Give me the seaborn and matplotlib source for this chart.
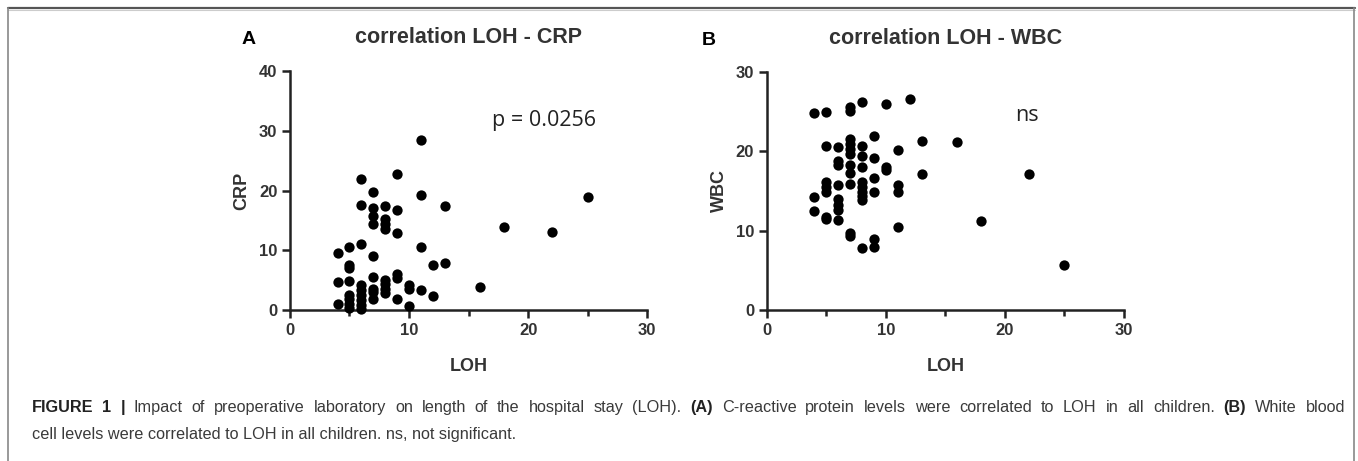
import seaborn as sns
import matplotlib.pyplot as plt
import pandas as pd
from matplotlib.lines import Line2D

# Panel A: LOH vs CRP
loh_a = ([4] * 3 + [5] * 8 + [6] * 9 + [7] * 9 + [8] * 8 + [9] * 6
         + [10] * 3 + [11] * 4 + [12] * 2 + [13] * 2 + [16, 18, 22, 25])
crp = [1.0, 4.7, 9.6,
       10.6, 7.5, 7.0, 4.9, 2.5, 1.8, 1.0, 0.3,
       22.0, 17.5, 11.0, 4.2, 3.4, 2.5, 1.7, 0.8, 0.1,
       19.8, 17.0, 15.8, 14.4, 9.1, 5.5, 3.6, 3.0, 1.9,
       17.4, 15.3, 14.4, 13.6, 5.0, 4.4, 3.6, 2.8,
       22.7, 16.7, 12.9, 6.0, 5.3, 1.9,
       4.2, 3.6, 0.7,
       28.4, 19.3, 10.6, 3.4,
       7.6, 2.4,
       17.4, 7.9,
       3.8, 13.9, 13.0, 18.9]

# Panel B: LOH vs WBC
loh_b = ([4] * 3 + [5] * 7 + [6] * 8 + [7] * 11 + [8] * 10 + [9] * 6
         + [10] * 3 + [11] * 4 + [12] + [13] * 2 + [16, 18, 22, 25])
wbc = [24.8, 14.2, 12.5,
       24.9, 20.6, 16.1, 15.5, 14.9, 11.7, 11.5,
       20.5, 18.7, 18.2, 15.7, 14.0, 13.2, 12.6, 11.3,
       25.5, 25.1, 21.5, 20.9, 20.3, 19.7, 18.2, 17.2, 15.8, 9.7, 9.3,
       26.2, 20.7, 19.4, 18.0, 16.1, 15.5, 14.9, 14.3, 13.9, 7.8,
       21.9, 19.1, 16.6, 14.8, 9.0, 7.9,
       25.9, 18.0, 17.6,
       20.2, 15.7, 14.8, 10.5,
       26.6,
       21.3, 17.1,
       21.1, 11.2, 17.1, 5.7]

# letter, title, y label, x, y, y max, annotation, axes left, letter x, note x, note y
panels = [
    ("A", "correlation LOH - CRP", "CRP", loh_a, crp, 40, "p = 0.0256",
     0.2135, -0.135, 0.565, 0.795),
    ("B", "correlation LOH - WBC", "WBC", loh_b, wbc, 30, "ns",
     0.5646, -0.182, 0.695, 0.815),
]

caption_line1 = ("**FIGURE 1 |** Impact of preoperative laboratory on length of the hospital "
                 "stay (LOH). **(A)** C-reactive protein levels were correlated to LOH in all "
                 "children. **(B)** White blood")
caption_line2 = "cell levels were correlated to LOH in all children. ns, not significant."


def draw_panel(fig, letter, title, ylab, x, y, ymax, note, left, letter_x, note_x, note_y):
    ax = fig.add_axes([left, 0.3275, 0.2631, 0.5184 if ymax == 40 else 0.517])
    df = pd.DataFrame({"LOH": x, ylab: y})
    sns.scatterplot(data=df, x="LOH", y=ylab, ax=ax, color="black", s=55,
                    edgecolor="black", linewidth=0, clip_on=False, zorder=3)
    ax.set_xlim(0, 30)
    ax.set_ylim(0, ymax)
    ax.set_xticks([0, 10, 20, 30])
    ax.set_xticks([5, 15, 25], minor=True)
    ax.set_yticks(range(0, ymax + 1, 10))
    for side in ["top", "right"]:
        ax.spines[side].set_visible(False)
    for side in ["left", "bottom"]:
        ax.spines[side].set_linewidth(1.8)
        ax.spines[side].set_color("#222222")
    ax.tick_params(which="both", bottom=True, left=True)
    ax.tick_params(which="major", length=6, width=1.8, color="#222222",
                   labelsize=12, pad=3)
    ax.tick_params(which="minor", length=4, width=1.8, color="#222222")
    for lab in ax.get_xticklabels() + ax.get_yticklabels():
        lab.set_fontweight("bold")
        lab.set_color("#333333")
    ax.set_xlabel("LOH", fontsize=13, fontweight="bold", color="#333333", labelpad=15)
    ax.set_ylabel(ylab, fontsize=13, fontweight="bold", color="#333333", labelpad=6)
    ax.set_title(title, fontsize=15.5, fontweight="bold", color="#333333", pad=20)
    ax.text(letter_x, 1.13, letter, transform=ax.transAxes, fontsize=14,
            fontweight="bold", color="black", va="center", ha="left")
    ax.text(note_x, note_y, note, transform=ax.transAxes, fontsize=15.5,
            family="Open Sans", color="#222222", va="center", ha="left")
    ax.set_facecolor("none")
    return ax


def justified_line(fig, text, x0, x1, y, fs):
    # split into (word, bold) pieces and spread them over [x0, x1] pixels
    pieces = []
    for i, chunk in enumerate(text.split("**")):
        for w in chunk.split():
            pieces.append((w, i % 2 == 1))
    r = fig.canvas.get_renderer()
    arts = []
    total = 0
    for w, bold in pieces:
        t = fig.text(0, y, w, fontsize=fs, fontweight="bold" if bold else "normal",
                     color="#222222" if bold else "#3a3a3a", va="center")
        total += t.get_window_extent(r).width
        arts.append(t)
    gap = (x1 - x0 - total) / (len(arts) - 1)
    xpos = x0
    for t in arts:
        t.set_x(xpos / fig.bbox.width)
        xpos += t.get_window_extent(r).width + gap


def main():
    sns.set_theme(style="white")
    plt.rcParams["font.family"] = ["Liberation Sans", "DejaVu Sans"]
    fig = plt.figure(figsize=(13.58, 4.61), dpi=100)

    for p in panels:
        draw_panel(fig, *p)

    # frame around the figure
    fig.add_artist(Line2D([8 / 1358, 1355 / 1358], [1 - 8 / 461, 1 - 8 / 461],
                          color="#555555", lw=1.6))
    fig.add_artist(Line2D([8 / 1358, 1355 / 1358], [1 - 10 / 461, 1 - 10 / 461],
                          color="#cccccc", lw=0.8))
    for xe in [8 / 1358, 1354 / 1358]:
        fig.add_artist(Line2D([xe, xe], [0, 1 - 8 / 461], color="#888888", lw=1.2))

    # caption
    fs = 11.7
    fig.canvas.draw()
    justified_line(fig, caption_line1, 32, 1345, 1 - 407 / 461, fs)
    fig.text(32 / 1358, 1 - 434 / 461, caption_line2, fontsize=fs, color="#3a3a3a",
             va="center")

    fig.savefig("out.png", dpi=100)


if __name__ == "__main__":
    main()
